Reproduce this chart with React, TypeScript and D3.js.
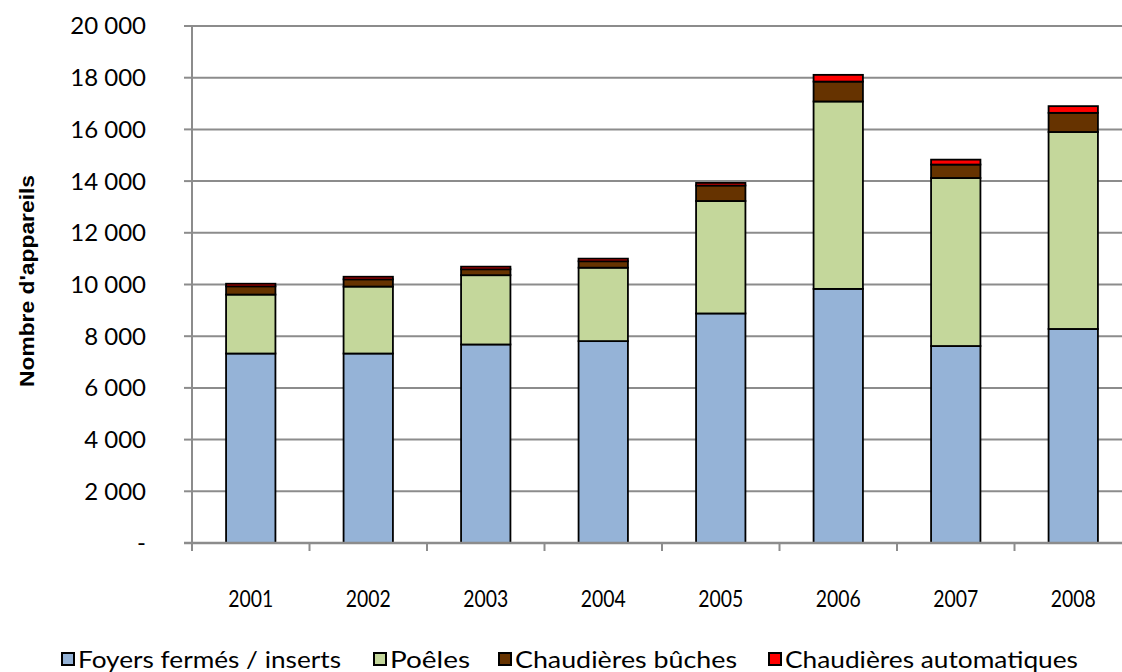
import React from "react";
import * as d3 from "d3";

const years = ["2001", "2002", "2003", "2004", "2005", "2006", "2007", "2008"];
const foyers = [7330, 7330, 7680, 7810, 8880, 9830, 7620, 8280];
const poeles = [2280, 2590, 2680, 2840, 4350, 7250, 6500, 7620];
const buches = [320, 280, 230, 250, 600, 770, 520, 740];
const automatiques = [100, 100, 100, 100, 100, 260, 190, 260];
const seriesNames = ["Foyers fermés / inserts", "Poêles", "Chaudières bûches", "Chaudières automatiques"];
const seriesColors = ["#95B3D7", "#C4D79B", "#663300", "#FF0000"];
const yTicks = [0, 2000, 4000, 6000, 8000, 10000, 12000, 14000, 16000, 18000, 20000];

const W = 1122;
const H = 672;
const left = 192;
const right = 1132;
const top = 26;
const bottom = 543;

export default function App() {
  const x = d3.scaleBand<string>().domain(years).range([left, right]).paddingInner(0.58).paddingOuter(0.29);
  const band = d3.scaleBand<string>().domain(years).range([left, right]);
  const y = d3.scaleLinear().domain([0, 20000]).range([bottom, top]);

  const rows = years.map((yr, i) => ({
    year: yr,
    s0: foyers[i],
    s1: poeles[i],
    s2: buches[i],
    s3: automatiques[i],
  }));
  const stack = d3.stack<any>().keys(["s0", "s1", "s2", "s3"])(rows);

  const fmt = (v: number) => (v === 0 ? "-" : d3.format(",")(v).replace(/,/g, " "));

  const legendSquares = [62, 374, 499, 769];
  const legendWidths = [263, 80, 222, 293];

  return (
    <svg width={W} height={H} style={{ position: "absolute", left: 0, top: 0, background: "#fff" }}
      fontFamily="Lato, 'Open Sans', sans-serif">
      {/* gridlines */}
      {yTicks.slice(1).map((t) => (
        <line key={"g" + t} x1={left} x2={right} y1={y(t)} y2={y(t)} stroke="#8C8C8C" strokeWidth={2} />
      ))}
      {/* bars */}
      {stack.map((layer, li) =>
        layer.map((d, i) => (
          <rect key={li + "-" + i} x={x(years[i])} width={x.bandwidth()} y={y(d[1])}
            height={y(d[0]) - y(d[1])} fill={seriesColors[li]} stroke="#000" strokeWidth={1.8} />
        ))
      )}
      {/* y axis */}
      <line x1={left} x2={left} y1={top} y2={bottom} stroke="#8C8C8C" strokeWidth={2} />
      {yTicks.map((t) => (
        <g key={"yt" + t}>
          <line x1={left - 8} x2={left} y1={y(t)} y2={y(t)} stroke="#8C8C8C" strokeWidth={2} />
          <text x={146} y={y(t)} dy="0.35em" textAnchor="end" fontSize={24} fill="#000">{fmt(t)}</text>
        </g>
      ))}
      {/* x axis */}
      <line x1={left - 8} x2={right} y1={bottom} y2={bottom} stroke="#8C8C8C" strokeWidth={2.5} />
      {years.map((yr) => (
        <line key={"xt" + yr} x1={band(yr)!} x2={band(yr)!} y1={bottom} y2={bottom + 8} stroke="#8C8C8C" strokeWidth={2} />
      ))}
      {years.map((yr) => (
        <text key={"xl" + yr} x={band(yr)! + band.bandwidth() / 2} y={607} textAnchor="middle" fontSize={23} fill="#000"
          textLength={45} lengthAdjust="spacingAndGlyphs">{yr}</text>
      ))}
      {/* y title */}
      <text transform={`translate(34, ${281}) rotate(-90)`} textAnchor="middle" fontSize={20}
        fontWeight="bold" fontFamily="'Liberation Sans', Arial, sans-serif" fill="#000"
        textLength={212} lengthAdjust="spacingAndGlyphs">Nombre d'appareils</text>
      {/* legend */}
      {seriesNames.map((n, i) => (
        <g key={"lg" + i}>
          <rect x={legendSquares[i]} y={653} width={12} height={12} fill={seriesColors[i]} stroke="#000" strokeWidth={2} />
          <text x={legendSquares[i] + 16} y={668} fontSize={23} fill="#000" textLength={legendWidths[i]}
            lengthAdjust="spacingAndGlyphs">{n}</text>
        </g>
      ))}
    </svg>
  );
}
